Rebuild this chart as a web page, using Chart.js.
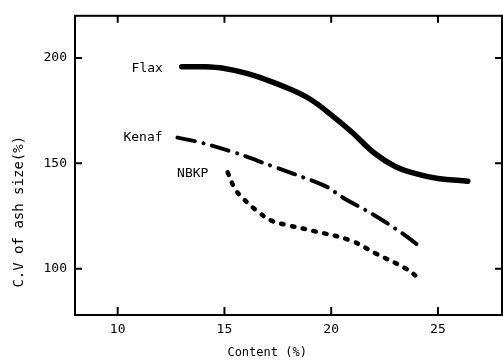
<!DOCTYPE html>
<html>
<head>
<meta charset="utf-8">
<script src="https://cdn.jsdelivr.net/npm/chart.js@4"></script>
<style>
  body { margin: 0; background: #fff; }
  #wrap { width: 503px; height: 363px; }
</style>
</head>
<body>
<div id="wrap"><canvas id="chart"></canvas></div>
<script>
// values
const xTicks = [10, 15, 20, 25];
const yTicks = [100, 150, 200];

const flaxX = [13, 14, 15, 16, 17, 18, 19, 20, 21, 22, 23, 24, 25, 26.4];
const flaxY = [195.8, 195.8, 195, 192.8, 189.5, 185.5, 180.5, 173, 164.5, 155, 148.5, 145, 142.8, 141.5];

const kenafX = [12.8, 13.9, 15.5, 17.2, 18.7, 19.8, 20.5, 22, 23, 23.7, 24.2];
const kenafY = [162.2, 159.8, 155, 148.8, 143.3, 138.8, 134, 125.5, 119, 114, 110];

const nbkpX = [15.15, 15.5, 15.9, 16.6, 17.2, 18.1, 19.2, 20.9, 22.1, 23.5, 24.1];
const nbkpY = [145.7, 137.8, 133, 126.8, 122.8, 120.3, 117.8, 113.4, 107.1, 100, 95.5];

const seriesNames = ["Flax", "Kenaf", "NBKP"];
const yTitle = "C.V of ash size(%)";
const xTitle = "Content (%)";

// where the curve names start (data units)
const namePos = [[10.65, 194.8], [10.27, 162], [12.78, 145]];

const FONT = "'DejaVu Sans Mono', monospace";

function pts(xs, ys) {
  return xs.map((x, i) => ({ x: x, y: ys[i] }));
}

const frame = {
  id: "frame",
  afterDraw(chart) {
    const ctx = chart.ctx;
    const a = chart.chartArea;
    const xs = chart.scales.x, ys = chart.scales.y;
    ctx.save();
    ctx.strokeStyle = "#000";
    ctx.lineWidth = 2;
    ctx.strokeRect(a.left, a.top, a.right - a.left, a.bottom - a.top);
    // inward ticks on all four sides
    ctx.beginPath();
    xTicks.forEach(v => {
      const px = xs.getPixelForValue(v);
      ctx.moveTo(px, a.bottom); ctx.lineTo(px, a.bottom - 8);
      ctx.moveTo(px, a.top); ctx.lineTo(px, a.top + 7);
    });
    yTicks.forEach(v => {
      const py = ys.getPixelForValue(v);
      ctx.moveTo(a.left, py); ctx.lineTo(a.left + 7, py);
      ctx.moveTo(a.right, py); ctx.lineTo(a.right - 7, py);
    });
    ctx.stroke();

    // curve names
    ctx.fillStyle = "#000";
    ctx.font = "13px " + FONT;
    ctx.textBaseline = "middle";
    ctx.textAlign = "left";
    seriesNames.forEach((n, i) => {
      ctx.fillText(n, xs.getPixelForValue(namePos[i][0]), ys.getPixelForValue(namePos[i][1]));
    });

    // x axis title (sits a bit left of centre in the scan)
    ctx.textAlign = "center";
    ctx.font = "12px " + FONT;
    ctx.fillText(xTitle, xs.getPixelForValue(17.0), 353);

    // y axis title
    ctx.translate(19, ys.getPixelForValue(127));
    ctx.rotate(-Math.PI / 2);
    ctx.font = "14px " + FONT;
    ctx.fillText(yTitle, 0, 0);
    ctx.restore();
  }
};

const common = {
  fill: false,
  pointRadius: 0,
  borderColor: "#000",
  borderCapStyle: "round",
  tension: 0.4
};

new Chart(document.getElementById("chart"), {
  type: "line",
  data: {
    datasets: [
      Object.assign({ label: "Flax", data: pts(flaxX, flaxY), borderWidth: 5.5 }, common),
      Object.assign({ label: "Kenaf", data: pts(kenafX, kenafY), borderWidth: 4, borderDash: [17.7, 8.7, 0.1, 8.7] }, common),
      Object.assign({ label: "NBKP", data: pts(nbkpX, nbkpY), borderWidth: 4.5, borderDash: [2.5, 8.5] }, common)
    ]
  },
  options: {
    responsive: true,
    maintainAspectRatio: false,
    devicePixelRatio: 1,
    animation: false,
    layout: { padding: { top: 14, right: 1, left: 0, bottom: 0 } },
    plugins: { legend: { display: false }, tooltip: { enabled: false } },
    scales: {
      x: {
        type: "linear",
        min: 8,
        max: 28,
        afterBuildTicks: s => { s.ticks = xTicks.map(v => ({ value: v })); },
        afterFit: s => { s.height = 48; },
        grid: { drawOnChartArea: false, drawTicks: false },
        border: { display: true, color: "#000", width: 2 },
        ticks: { color: "#000", font: { family: FONT, size: 13 }, padding: 7, maxRotation: 0 }
      },
      y: {
        min: 78,
        max: 220,
        afterBuildTicks: s => { s.ticks = yTicks.map(v => ({ value: v })); },
        afterFit: s => { s.width = 75; },
        grid: { drawOnChartArea: false, drawTicks: false },
        border: { display: true, color: "#000", width: 2 },
        ticks: { color: "#000", font: { family: FONT, size: 13 }, padding: 8 }
      }
    }
  },
  plugins: [frame]
});
</script>
</body>
</html>
